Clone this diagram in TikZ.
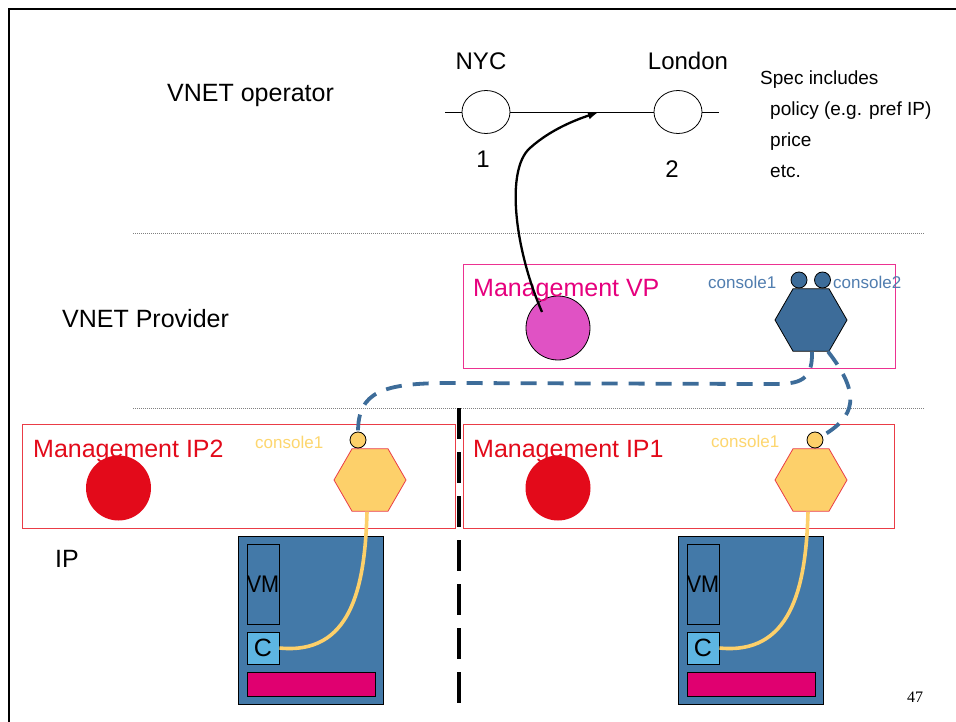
\documentclass[tikz,border=0pt]{standalone}
\usepackage{fontspec}
\setmainfont{Liberation Sans}
\newfontfamily\serifnum{Liberation Serif}
\usepackage{graphicx}
\usetikzlibrary{shapes.geometric,arrows.meta}
\definecolor{magt}{RGB}{230,0,126}
\definecolor{magb}{RGB}{236,50,145}
\definecolor{mvpfill}{RGB}{224,82,196}
\definecolor{redt}{RGB}{227,10,26}
\definecolor{redb}{RGB}{234,60,70}
\definecolor{conb}{RGB}{80,125,175}
\definecolor{hexblue}{RGB}{61,108,153}
\definecolor{yel}{RGB}{253,208,106}
\definecolor{yelt}{RGB}{253,214,110}
\definecolor{srv}{RGB}{67,121,168}
\definecolor{cbox}{RGB}{93,181,226}
\definecolor{bar}{RGB}{224,0,112}
\newcommand{\fsA}{\fontsize{25}{30}\selectfont}
\newcommand{\fsB}{\fontsize{24}{29}\selectfont}
\newcommand{\fsS}{\fontsize{19}{23}\selectfont}
\newcommand{\fsC}{\fontsize{17}{20}\selectfont}
\begin{document}
\begin{tikzpicture}[x=1pt,y=-1pt,
  lbl/.style={inner sep=0pt, anchor=base west},
  clbl/.style={inner sep=0pt, anchor=base},
  mbox/.style={draw, line width=0.9pt, minimum height=104pt, inner sep=0pt},
  bigdot/.style={circle, minimum size=65pt, inner sep=0pt},
  hexa/.style={regular polygon, regular polygon sides=6, minimum size=72pt, inner sep=0pt},
  smalldot/.style={circle, draw=black, line width=0.8pt, minimum size=16pt, inner sep=0pt},
  citynode/.style={ellipse, draw=black, fill=white, line width=0.8pt, minimum width=48pt, minimum height=43pt, inner sep=0pt},
  dotline/.style={draw=gray, line width=0.8pt, dash pattern=on 1pt off 1pt},
  dashblue/.style={draw=hexblue, line width=3.8pt, dash pattern=on 16pt off 11pt},
  yline/.style={draw=yel, line width=3.6pt},
  server/.style={draw=black, fill=srv, line width=0.9pt, minimum width=145pt, minimum height=168pt, inner sep=0pt},
  vmbox/.style={draw=black, fill=srv, line width=0.9pt, minimum width=32pt, minimum height=80pt, inner sep=0pt},
  cboxs/.style={draw=black, fill=cbox, line width=0.9pt, minimum size=32pt, inner sep=0pt},
  barbox/.style={draw=black, fill=bar, line width=0.9pt, minimum width=128pt, minimum height=24pt, inner sep=0pt}
]
\useasboundingbox (0,0) rectangle (956,722);
\fill[white] (0,0) rectangle (956,722);
% frame
\draw[line width=2.4pt] (9,730) -- (9,9) -- (965,9);

% dotted separators
\draw[dotline] (133,233) -- (925,233);
\draw[dotline] (133,408) -- (925,408);

% vertical divider
\draw[line width=3.8pt, dash pattern=on 31pt off 13pt] (459,408) -- (459,705);

% VNET operator layer
\node[lbl, font=\fsA] (vop) at (167,102) {VNET operator};
\coordinate (l0) at (445,112);
\coordinate (l1) at (719,112);
\node[citynode] (nyc) at (486,112) {};
\node[citynode] (lon) at (678,112) {};
\draw[line width=0.8pt] (l0) -- (nyc) -- (lon) -- (l1);
\coordinate (lk) at (598,112.5);
\node[clbl, font=\fsB] (nyct) at (481,70) {NYC};
\node[clbl, font=\fsB] (lont) at (688,70) {London};
\node[clbl, font=\fsB] (one) at (483,168) {1};
\node[clbl, font=\fsB] (two) at (672,178) {2};
\node[lbl, font=\fsS] (sp0) at (760,85) {Spec includes};
\node[lbl, font=\fsS] (sp1) at (770,116) {policy (e.g. pref IP)};
\node[lbl, font=\fsS] (sp2) at (770,147) {price};
\node[lbl, font=\fsS] (sp3) at (770,178) {etc.};

% VNET provider layer
\node[lbl, font=\fsA] (vpr) at (62,327) {VNET Provider};
\node[mbox, draw=magb, minimum width=432pt] (vpbox) at (679,316) {};
\node[bigdot, draw=black, line width=0.8pt, fill=mvpfill, minimum size=64pt] (mvp) at (558,328) {};
\node[hexa, draw=black, line width=0.8pt, fill=hexblue] (vphex) at (811,320) {};
\node[smalldot, fill=hexblue] (vc1) at (799,280) {};
\node[smalldot, fill=hexblue] (vc2) at (822.5,280) {};
\node[lbl, text=magt, font=\fsA] (vpt) at (473,296) {Management VP};
\node[lbl, text=conb, font=\fsC] (vct1) at (708,288) {console1};
\node[lbl, text=conb, font=\fsC] (vct2) at (833,288) {console2};
\coordinate (as) at (542,312);

% IP layer
\node[lbl, font=\fsA] (ipt) at (55,567) {IP};
\node[mbox, draw=redb, minimum width=433pt] (ip2box) at (238.5,476) {};
\node[mbox, draw=redb, minimum width=431pt] (ip1box) at (678.5,476) {};
\node[bigdot, fill=redt] (r2) at (118.5,488) {};
\node[bigdot, fill=redt] (r1) at (558,488) {};
\node[hexa, draw=redb, line width=0.8pt, fill=yel] (hex2) at (370,480) {};
\node[hexa, draw=redb, line width=0.8pt, fill=yel] (hex1) at (811,480) {};
\node[lbl, text=redt, font=\fsA] (ip2t) at (33,457) {Management IP2};
\node[lbl, text=redt, font=\fsA] (ip1t) at (473,457) {Management IP1};
\node[lbl, text=yelt, font=\fsC] (yct2) at (255,448) {console1};
\node[lbl, text=yelt, font=\fsC] (yct1) at (711,447) {console1};

% servers
\node[server] (s2) at (310.5,620) {};
\node[vmbox] (vm2) at (263,584) {};
\node[cboxs] (c2) at (263,648) {};
\node[barbox] (b2) at (311,684) {};
\node[server] (s1) at (750.5,620) {};
\node[vmbox] (vm1) at (703,584) {};
\node[cboxs] (c1) at (703,648) {};
\node[barbox] (b1) at (751,684) {};
\node[inner sep=0pt, font=\fsB] (vm2t) at (vm2.center) {\scalebox{0.9}[1]{VM}};
\node[inner sep=0pt, font=\fsA] (c2t) at (c2.center) {C};
\node[inner sep=0pt, font=\fsB] (vm1t) at (vm1.center) {\scalebox{0.9}[1]{VM}};
\node[inner sep=0pt, font=\fsA] (c1t) at (c1.center) {C};

% yellow console links
\draw[yline] (c2.east) .. controls (350,655) and (365,590) .. ([xshift=-3pt]hex2.south);
\draw[yline] (c1.east) .. controls (790,655) and (806,590) .. ([xshift=-3pt]hex1.south);

% blue dashed console links
\draw[dashblue] ([xshift=1pt]vphex.south) .. controls (813,385) and (795,384) .. (765,384)
   -- (450,383) .. controls (382,383) and (358,392) .. (358,432);
\draw[dashblue] ([xshift=17pt]vphex.south) .. controls (862,395) and (855,417) .. (822,436);
\node[smalldot, fill=yel] (y2) at (358,440) {};
\node[smalldot, fill=yel] (y1) at (815,440) {};

% arrow
\draw[line width=2.3pt, -{Latex[length=10pt,width=8pt]}] (as) .. controls (515,250) and (505,170) .. (530,148)
   .. controls (550,130) and (575,120) .. (lk);

\node[lbl, font=\serifnum\fontsize{16}{19}\selectfont] (pg) at (907,702) {47};
\end{tikzpicture}
\end{document}
